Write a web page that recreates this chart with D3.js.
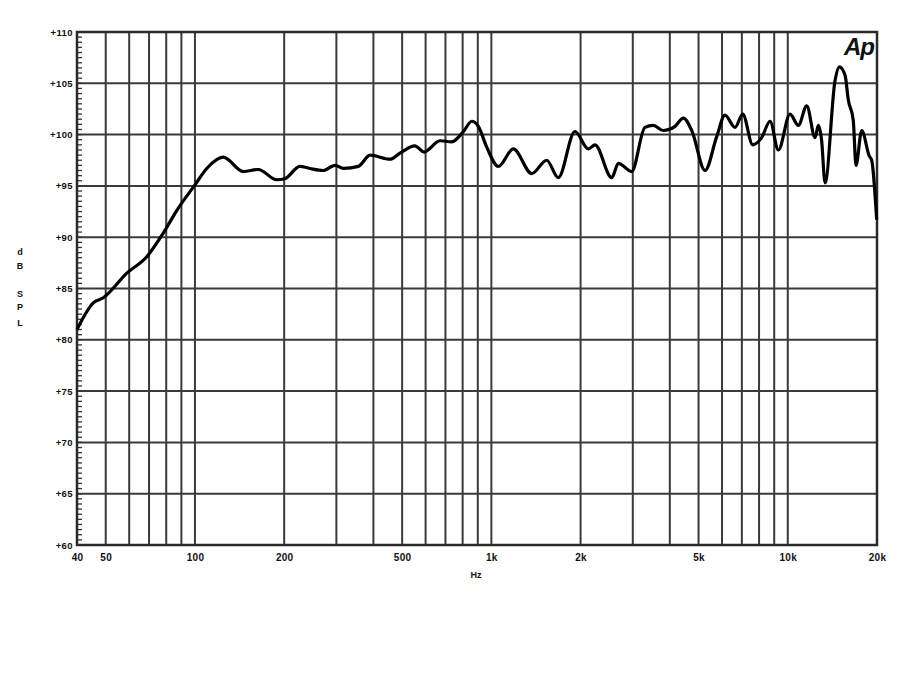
<!DOCTYPE html>
<html>
<head>
<meta charset="utf-8">
<title>dB SPL response</title>
<script src="https://cdn.jsdelivr.net/npm/d3@7"></script>
<style>
  body { margin: 0; background: #fff; }
  svg { display: block; }
  .lbl { font-family: "Liberation Sans", Arial, sans-serif; font-weight: bold; fill: #111; }
  .axis path, .axis line { display: none; }
</style>
</head>
<body>
<svg id="chart" width="900" height="678"></svg>
<script>
// frequency (Hz) and level (dB SPL)
var freqs = [40, 45.4, 49.1, 58.9, 68.8, 78.2, 86.8, 100, 109.6, 124.6, 145.6, 163.6, 188.7, 201,
  226, 244, 271, 297, 317, 356, 390, 455, 492, 552, 593, 671, 735, 805, 859, 904, 964,
  1055, 1186, 1369, 1537, 1681, 1915, 2124, 2237, 2548, 2682, 2974, 3297, 3518, 3801, 4164,
  4443, 4743, 5258, 5757, 6140, 6637, 7048, 7618, 8164, 8714, 9296, 10178, 10854, 11587,
  12364, 12680, 13000, 13360, 14440, 14930, 15600, 16000, 16630, 16990, 17760, 18840, 19190, 19950];
var spl = [81.0, 83.6, 84.1, 86.5, 88.1, 90.4, 92.6, 95.1, 96.7, 97.8, 96.4, 96.6, 95.6, 95.7,
  96.9, 96.7, 96.5, 97.0, 96.7, 96.9, 98.0, 97.6, 98.2, 98.9, 98.3, 99.4, 99.3, 100.3, 101.3, 100.8, 98.8,
  96.9, 98.6, 96.2, 97.5, 95.8, 100.3, 98.6, 99.0, 95.8, 97.2, 96.4, 100.7, 100.9, 100.4, 100.8,
  101.6, 100.4, 96.5, 99.8, 101.9, 100.7, 102.0, 99.0, 99.7, 101.3, 98.5, 102.0, 100.9, 102.8,
  99.7, 100.9, 99.5, 95.3, 105.3, 106.6, 105.8, 103.4, 101.4, 97.0, 100.4, 97.9, 97.5, 91.7];

var xGrid = [50, 60, 70, 80, 90, 100, 200, 300, 400, 500, 600, 700, 800, 900, 1000,
  2000, 3000, 4000, 5000, 6000, 7000, 8000, 9000, 10000, 20000];
var xTickValues = [40, 50, 100, 200, 500, 1000, 2000, 5000, 10000, 20000];
var xTickLabels = ["40", "50", "100", "200", "500", "1k", "2k", "5k", "10k", "20k"];
var yTickValues = [60, 65, 70, 75, 80, 85, 90, 95, 100, 105, 110];
var yTickLabels = ["+60", "+65", "+70", "+75", "+80", "+85", "+90", "+95", "+100", "+105", "+110"];

var svg = d3.select("#chart");
var pL = 77, pR = 877, pT = 32, pB = 545;

var x = d3.scaleLog().domain([40, 20000]).range([pL, pR]);
var y = d3.scaleLinear().domain([60, 110]).range([pB, pT]);

var g = svg.append("g");

// vertical grid
g.selectAll(".vg").data(xGrid).enter().append("line")
  .attr("x1", function(d){ return x(d); }).attr("x2", function(d){ return x(d); })
  .attr("y1", pT).attr("y2", pB)
  .attr("stroke", "#3a3a3a").attr("stroke-width", 2);

// horizontal grid
g.selectAll(".hg").data(yTickValues).enter().append("line")
  .attr("x1", pL).attr("x2", pR)
  .attr("y1", function(d){ return y(d); }).attr("y2", function(d){ return y(d); })
  .attr("stroke", "#3a3a3a").attr("stroke-width", 2);

// small ticks on the left edge every 0.5 dB
g.selectAll(".mt").data(d3.range(60, 110.01, 0.5)).enter().append("line")
  .attr("x1", pL).attr("x2", pL + 5)
  .attr("y1", function(d){ return y(d); }).attr("y2", function(d){ return y(d); })
  .attr("stroke", "#333").attr("stroke-width", 1.3);

// frame
g.append("rect").attr("x", pL).attr("y", pT)
  .attr("width", pR - pL).attr("height", pB - pT)
  .attr("fill", "none").attr("stroke", "#2a2a2a").attr("stroke-width", 2.5);

// axes (labels only)
var xAxis = d3.axisBottom(x).tickValues(xTickValues).tickSize(0).tickPadding(4)
  .tickFormat(function(d, i){ return xTickLabels[i]; });
svg.append("g").attr("class", "axis").attr("transform", "translate(0," + (pB + 5) + ")")
  .call(xAxis)
  .selectAll("text").attr("class", "lbl")
  .style("font-size", "10px").style("letter-spacing", "0.3px");

var yAxis = d3.axisLeft(y).tickValues(yTickValues).tickSize(0).tickPadding(4)
  .tickFormat(function(d, i){ return yTickLabels[i]; });
svg.append("g").attr("class", "axis").attr("transform", "translate(" + pL + ",0)")
  .call(yAxis)
  .selectAll("text").attr("class", "lbl")
  .style("font-size", "9.5px").style("letter-spacing", "0.4px");

svg.selectAll(".axis").attr("font-family", null);

// curve
var line = d3.line()
  .x(function(d, i){ return x(freqs[i]); })
  .y(function(d){ return y(d); })
  .curve(d3.curveMonotoneX);
svg.append("path").datum(spl)
  .attr("d", line)
  .attr("fill", "none").attr("stroke", "#000").attr("stroke-width", 3.2)
  .attr("stroke-linejoin", "round");

// axis titles
svg.append("text").attr("class", "lbl").attr("x", 476).attr("y", 578)
  .attr("text-anchor", "middle").style("font-size", "9px").text("Hz");

var ylab = ["d", "B", "", "S", "P", "L"];
var ly = [255, 269, 0, 297, 310, 326];
svg.selectAll(".yl").data(ylab).enter().append("text")
  .attr("class", "lbl").attr("x", 20).attr("y", function(d, i){ return ly[i]; })
  .attr("text-anchor", "middle").style("font-size", "9px")
  .text(function(d){ return d; });

// logo
svg.append("text").attr("class", "lbl").attr("x", 874).attr("y", 55)
  .attr("text-anchor", "end").style("font-size", "24px").style("font-style", "italic")
  .style("letter-spacing", "-1px").text("Ap");
</script>
</body>
</html>
